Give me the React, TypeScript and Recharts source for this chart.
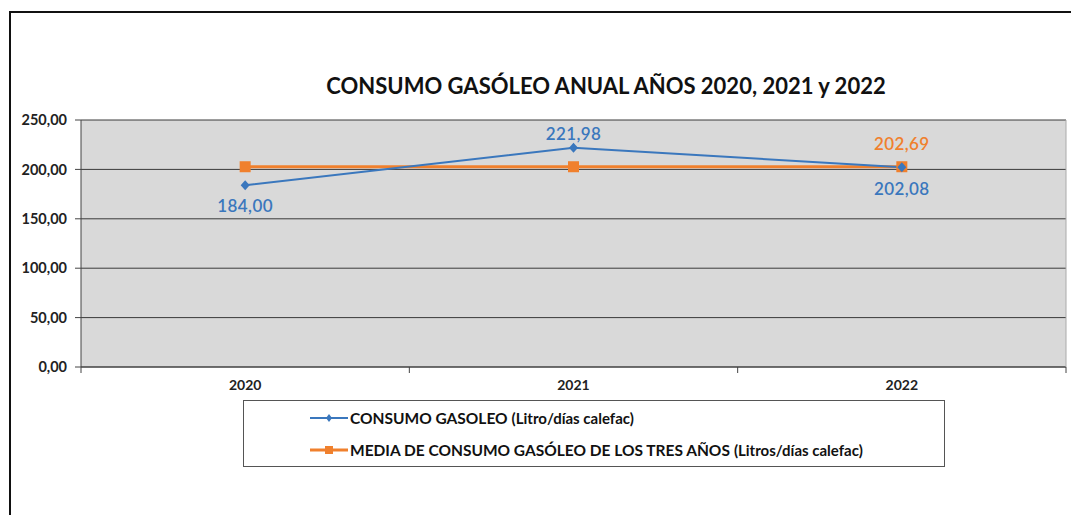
import React from "react";
import { LineChart, Line, XAxis, YAxis, CartesianGrid, LabelList } from "recharts";

const years = ["2020", "2021", "2022"];
const consumo = [184.0, 221.98, 202.08];
const media = [202.69, 202.69, 202.69];
const consumoLabelSide = ["bottom", "top", "bottom"];
const mediaLabelShown = [false, false, true];
const yTicks = [0, 50, 100, 150, 200, 250];
const xTicks = [-0.5, 0, 0.5, 1, 1.5, 2, 2.5];

const BLUE = "#3a77bd";
const ORANGE = "#f0802d";
const FONT = "Lato, 'Open Sans', sans-serif";

const fmt = (v: number) => v.toFixed(2).replace(".", ",");

const data = years.map((year, i) => ({ x: i, year, consumo: consumo[i], media: media[i] }));

const Diamond = (props: any) => {
  const { cx, cy } = props;
  if (cx == null || cy == null) return null;
  return <path d={`M${cx},${cy - 5}L${cx + 4.5},${cy}L${cx},${cy + 5}L${cx - 4.5},${cy}Z`} fill={BLUE} />;
};

const Square = (props: any) => {
  const { cx, cy } = props;
  if (cx == null || cy == null) return null;
  return <rect x={cx - 5.5} y={cy - 5.5} width={11} height={11} fill={ORANGE} />;
};

const XTick = (props: any) => {
  const { x, y, payload } = props;
  const v = payload.value;
  if (Number.isInteger(v)) {
    return (
      <text x={x} y={y + 15} textAnchor="middle" fontFamily={FONT} fontWeight={700} fontSize={14} fill="#222">
        {years[v]}
      </text>
    );
  }
  return <line x1={x} x2={x} y1={y - 8} y2={y - 2} stroke="#444" />;
};

const consumoLabel = (props: any) => {
  const { x, y, value, index } = props;
  const below = consumoLabelSide[index] === "bottom";
  const dy = below ? (index === 2 ? 28 : 27) : -8;
  return (
    <text x={x} y={y + dy} textAnchor="middle" fontFamily={FONT} fontWeight={600} fontSize={17} fill={BLUE} letterSpacing={0.4}>
      {fmt(value)}
    </text>
  );
};

const mediaLabel = (props: any) => {
  const { x, y, value, index } = props;
  if (!mediaLabelShown[index]) return null;
  return (
    <text x={x} y={y - 17} textAnchor="middle" fontFamily={FONT} fontWeight={600} fontSize={17} fill={ORANGE} letterSpacing={0.4}>
      {fmt(value)}
    </text>
  );
};

const legendItems = [
  { color: BLUE, main: "CONSUMO GASOLEO", unit: "(Litro/días calefac)", marker: "diamond" },
  { color: ORANGE, main: "MEDIA DE CONSUMO GASÓLEO DE LOS TRES AÑOS", unit: "(Litros/días calefac)", marker: "square" },
];

export default function App() {
  return (
    <div style={{ position: "absolute", left: 0, top: 0, width: 1071, height: 515, background: "#fff", overflow: "hidden" }}>
      <div
        style={{
          position: "absolute",
          left: 9,
          top: 11,
          width: 1080,
          height: 520,
          borderTop: "2px solid #111",
          borderLeft: "2px solid #111",
        }}
      />
      <div
        style={{
          position: "absolute",
          left: 0,
          width: 1212,
          top: 72,
          textAlign: "center",
          fontFamily: FONT,
          fontWeight: 700,
          fontSize: 22,
          color: "#111",
        }}
      >
        CONSUMO GASÓLEO ANUAL AÑOS 2020, 2021 y 2022
      </div>
      <div style={{ position: "absolute", left: 0, top: 0 }}>
        <LineChart width={1071} height={515} data={data} margin={{ top: 120, right: 4, bottom: 118, left: 0 }}>
          <CartesianGrid vertical={false} fill="#d9d9d9" stroke="#3a3a3a" horizontalValues={yTicks} />
          <XAxis
            dataKey="x"
            type="number"
            domain={[-0.5, 2.5]}
            ticks={xTicks}
            interval={0}
            height={30}
            tickLine={false}
            tickSize={6}
            tick={<XTick />}
            axisLine={{ stroke: "#444" }}
          />
          <YAxis
            domain={[0, 250]}
            ticks={yTicks}
            width={81}
            tickSize={6}
            tickMargin={8}
            tickFormatter={fmt}
            tick={{ fontFamily: FONT, fontWeight: 700, fontSize: 14.5, fill: "#222" }}
            axisLine={{ stroke: "#444" }}
            tickLine={{ stroke: "#444" }}
          />
          <YAxis yAxisId="r" orientation="right" width={1} tick={false} tickLine={false} axisLine={{ stroke: "#aaa" }} />
          <Line
            dataKey="media"
            type="linear"
            stroke={ORANGE}
            strokeWidth={3}
            dot={<Square />}
            activeDot={false}
            isAnimationActive={false}
          >
            <LabelList dataKey="media" content={mediaLabel} />
          </Line>
          <Line
            dataKey="consumo"
            type="linear"
            stroke={BLUE}
            strokeWidth={2}
            dot={<Diamond />}
            activeDot={false}
            isAnimationActive={false}
          >
            <LabelList dataKey="consumo" content={consumoLabel} />
          </Line>
        </LineChart>
      </div>
      <div
        style={{
          position: "absolute",
          left: 243,
          top: 400,
          width: 702,
          height: 67,
          border: "1.5px solid #555",
          boxSizing: "border-box",
          fontFamily: FONT,
          color: "#111",
        }}
      >
        {legendItems.map((it, i) => (
          <div key={i} style={{ position: "absolute", left: 66, top: 8 + i * 32, display: "flex", alignItems: "center", whiteSpace: "nowrap" }}>
            <svg width={38} height={14}>
              <line x1={0} x2={38} y1={7} y2={7} stroke={it.color} strokeWidth={it.marker === "square" ? 3 : 2} />
              {it.marker === "square" ? (
                <rect x={15} y={3} width={8} height={8} fill={it.color} />
              ) : (
                <path d="M19,3L22,7L19,11L16,7Z" fill={it.color} />
              )}
            </svg>
            <span style={{ fontWeight: 700, fontSize: 15.5, marginLeft: 2 }}>{it.main}</span>
            <span style={{ fontWeight: 700, fontSize: 15, marginLeft: 4 }}>{it.unit}</span>
          </div>
        ))}
      </div>
    </div>
  );
}
